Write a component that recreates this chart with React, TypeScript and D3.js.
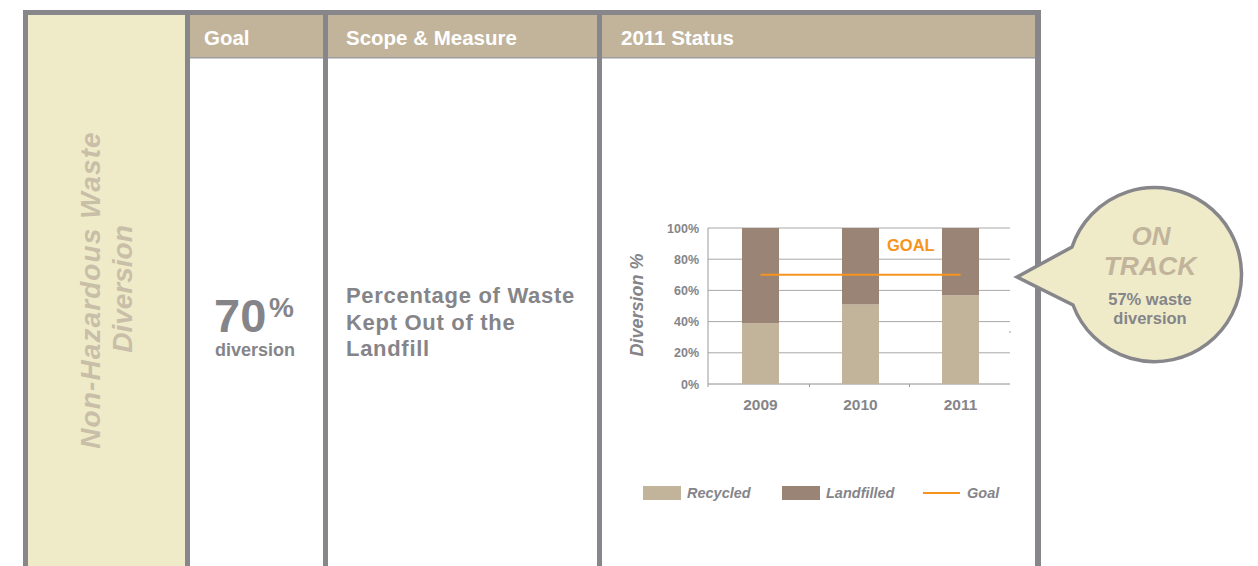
import React from 'react';
import * as d3 from 'd3';

const years = ['2009', '2010', '2011'];
const recycled = [39, 51, 57];
const landfilled = [61, 49, 43];
const goalValue = 70;
const yTicks = [0, 20, 40, 60, 80, 100];
const headers = ['Goal', 'Scope & Measure', '2011 Status'];
const legendItems = ['Recycled', 'Landfilled', 'Goal'];

const FONT = '"Liberation Sans", Arial, Helvetica, sans-serif';
const GRAY = '#858589';
const BORDER = '#87868A';
const TAN = '#C2B49B';
const BROWN = '#9A8476';
const YELLOW = '#EFEBC9';
const ORANGE = '#F7941D';

export default function App() {
  const W = 1258, H = 566;
  const x = d3.scaleBand<string>().domain(years).range([710.5, 1010.5]).padding(0);
  const y = d3.scaleLinear().domain([0, 100]).range([384, 228]);
  const barW = x.bandwidth() * 0.37;
  const rows = years.map((yr, i) => ({ year: yr, Recycled: recycled[i], Landfilled: landfilled[i] }));
  const stacked = d3.stack<any>().keys(['Recycled', 'Landfilled'])(rows);
  const colors: Record<string, string> = { Recycled: TAN, Landfilled: BROWN };
  const cx = (yr: string) => (x(yr) as number) + x.bandwidth() / 2;
  const goalLine = d3.line<string>().x((d) => cx(d)).y(() => y(goalValue));
  const tickBoundaries = [708, ...years.slice(0, 2).map((yr) => (x(yr) as number) + x.bandwidth() - 1)];

  // callout
  const ccx = 1153, cr = 87;
  const calloutPath = `M 1017 277 L 1072 247 A ${cr} ${cr} 0 1 1 1073 305 Z`;
  const headerCells = [[190, 133, 14], [328, 269, 18], [602, 433, 19]];

  return (
    <svg width={W} height={H} style={{ position: 'fixed', left: 0, top: 0, background: '#fff' }} fontFamily={FONT}>
      {/* table frame */}
      <rect x={23} y={10} width={1018} height={600} fill={BORDER} />
      <rect x={28} y={15} width={157} height={600} fill={YELLOW} />
      <rect x={190} y={15} width={133} height={600} fill="#fff" />
      <rect x={328} y={15} width={269} height={600} fill="#fff" />
      <rect x={602} y={15} width={433} height={600} fill="#fff" />
      {/* header */}
      {headerCells.map(([hx, hw, off], i) => (
        <g key={i}>
          <rect x={hx} y={15} width={hw} height={42} fill={TAN} />
          <rect x={hx} y={57} width={hw} height={1.5} fill="#9E9DA0" />
          <text x={hx + off} y={44.5} fill="#fff" fontSize={20.5} fontWeight="bold">{headers[i]}</text>
        </g>
      ))}

      {/* left column vertical label */}
      <g fill="#C9BEA8" fontSize={28} fontWeight="bold" fontStyle="italic" textAnchor="middle">
        <text transform="translate(100,290) rotate(-90)" letterSpacing={1.1}>Non-Hazardous Waste</text>
        <text transform="translate(132,289) rotate(-90)">Diversion</text>
      </g>

      {/* goal column */}
      <text x={214} y={332} fill={GRAY} fontSize={47} fontWeight="bold">70</text>
      <text x={269} y={317} fill={GRAY} fontSize={28} fontWeight="bold">%</text>
      <text x={215} y={356} fill={GRAY} fontSize={18} fontWeight="bold">diversion</text>

      {/* scope column */}
      <g fill={GRAY} fontSize={22} fontWeight="bold" letterSpacing={0.7}>
        <text x={346} y={303}>Percentage of Waste</text>
        <text x={346} y={330}>Kept Out of the</text>
        <text x={346} y={356}>Landfill</text>
      </g>

      {/* chart gridlines */}
      {yTicks.map((t) => (
        <g key={t}>
          <line x1={708} x2={1010} y1={y(t)} y2={y(t)} stroke={t === 0 ? '#8E8E8E' : '#A8A8A8'} strokeWidth={1} />
          <text x={699} y={y(t) + 4.5} textAnchor="end" fill={GRAY} fontSize={12.5} fontWeight="bold">{t}%</text>
        </g>
      ))}
      <line x1={708} x2={708} y1={y(100)} y2={y(0)} stroke="#9A9A9A" strokeWidth={1} />
      {tickBoundaries.map((tx, i) => (
        <line key={i} x1={tx} x2={tx} y1={y(0)} y2={y(0) + 3} stroke="#9A9A9A" strokeWidth={1} />
      ))}
      {/* bars */}
      {stacked.map((series) => (
        <g key={series.key} fill={colors[series.key]}>
          {series.map((d, i) => (
            <rect key={i} x={cx(years[i]) - barW / 2} width={barW} y={y(d[1])} height={y(d[0]) - y(d[1])} />
          ))}
        </g>
      ))}
      <path d={goalLine(years) || ''} stroke={ORANGE} strokeWidth={2} fill="none" />
      <text x={887} y={251} fill={ORANGE} fontSize={16.5} fontWeight="bold">GOAL</text>
      {years.map((yr) => (
        <text key={yr} x={cx(yr)} y={410} textAnchor="middle" fill={GRAY} fontSize={15.5} fontWeight="bold">{yr}</text>
      ))}
      <text transform="translate(643,305) rotate(-90)" textAnchor="middle" fill={GRAY} fontSize={18} fontWeight="bold" fontStyle="italic">Diversion %</text>
      <line x1={1009} x2={1011} y1={332} y2={332} stroke="#A0A0A0" strokeWidth={1} />

      {/* legend */}
      <g fontSize={14.5} fontWeight="bold" fontStyle="italic" fill={GRAY}>
        <rect x={643} y={486} width={38} height={14} fill={TAN} />
        <text x={687} y={498}>{legendItems[0]}</text>
        <rect x={782} y={486} width={38} height={14} fill={BROWN} />
        <text x={826} y={498}>{legendItems[1]}</text>
        <line x1={923} x2={960} y1={493} y2={493} stroke={ORANGE} strokeWidth={2} />
        <text x={967} y={498}>{legendItems[2]}</text>
      </g>

      {/* callout */}
      <path d={calloutPath} fill={YELLOW} stroke={BORDER} strokeWidth={3.5} strokeLinejoin="miter" />
      <g textAnchor="middle" fontWeight="bold">
        <text x={ccx - 2} y={245} fill={TAN} fontSize={26} fontStyle="italic">ON</text>
        <text x={ccx - 3} y={275} fill={TAN} fontSize={26.5} fontStyle="italic">TRACK</text>
        <text x={ccx - 3} y={305} fill={GRAY} fontSize={16.5}>57% waste</text>
        <text x={ccx - 3} y={324} fill={GRAY} fontSize={16.5}>diversion</text>
      </g>
    </svg>
  );
}
